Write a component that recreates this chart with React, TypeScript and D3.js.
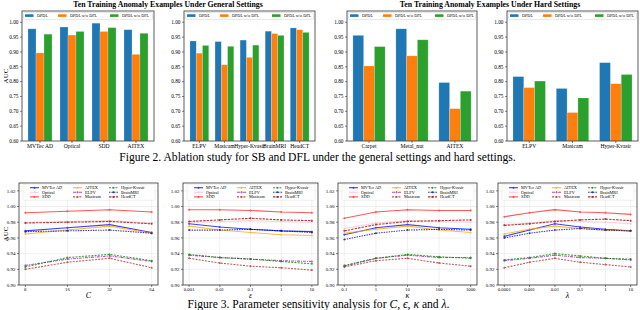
import * as d3 from "d3";

const FONT = "'Liberation Serif', 'Times New Roman', serif";
const BAR_COLORS = ["#1f77b4", "#ff7f0e", "#2ca02c"];
const BAR_SERIES = ["DPDL", "DPDL w/o DFL", "DPDL w/o DFL"];
const BAR_TICKS = [0.6, 0.65, 0.7, 0.75, 0.8, 0.85, 0.9, 0.95, 1.0];

// ablation, general settings
const generalCatsA = ["MVTec AD", "Optical", "SDD", "AITEX"];
const generalDpdlA = [0.978, 0.984, 0.997, 0.975];
const generalOrangeA = [0.897, 0.957, 0.969, 0.892];
const generalGreenA = [0.96, 0.969, 0.982, 0.963];

const generalCatsB = ["ELPV", "Masicam", "Hyper-Kvasir", "BrainMRI", "HeadCT"];
const generalDpdlB = [0.937, 0.935, 0.94, 0.97, 0.981];
const generalOrangeB = [0.896, 0.857, 0.882, 0.962, 0.975];
const generalGreenB = [0.922, 0.919, 0.923, 0.956, 0.966];

// ablation, hard settings
const hardCatsA = ["Carpet", "Metal_nut", "AITEX"];
const hardDpdlA = [0.956, 0.978, 0.797];
const hardOrangeA = [0.853, 0.887, 0.709];
const hardGreenA = [0.918, 0.941, 0.768];

const hardCatsB = ["ELPV", "Masicam", "Hyper-Kvasir"];
const hardDpdlB = [0.817, 0.777, 0.864];
const hardOrangeB = [0.78, 0.696, 0.793];
const hardGreenB = [0.802, 0.745, 0.824];

// sensitivity
const DATASETS = ["MVTec AD", "Optical", "SDD", "AITEX", "ELPV", "Masicam", "Hyper-Kvasir", "BrainMRI", "HeadCT"];
const LINE_STYLE: Record<string, { color: string; dash?: string }> = {
  "MVTec AD": { color: "#0000ff" },
  Optical: { color: "#ffc0cb" },
  SDD: { color: "#ff2020" },
  AITEX: { color: "#ffa500" },
  ELPV: { color: "#9b209b", dash: "3,1,1,1" },
  Masicam: { color: "#a52a2a", dash: "2,1.2" },
  "Hyper-Kvasir": { color: "#008000", dash: "2,1.2" },
  BrainMRI: { color: "#000080", dash: "1.5,1" },
  HeadCT: { color: "#8b0000", dash: "2.5,1" },
};
const LINE_TICKS = [0.9, 0.92, 0.94, 0.96, 0.98, 1.0, 1.02];

const ticksC = ["8", "16", "32", "64"];
const sensC: Record<string, number[]> = {
  "MVTec AD": [0.969, 0.973, 0.977, 0.967],
  Optical: [0.98, 0.981, 0.982, 0.979],
  SDD: [0.992, 0.994, 0.996, 0.993],
  AITEX: [0.965, 0.97, 0.975, 0.966],
  ELPV: [0.925, 0.933, 0.937, 0.93],
  Masicam: [0.92, 0.929, 0.934, 0.922],
  "Hyper-Kvasir": [0.923, 0.935, 0.939, 0.931],
  BrainMRI: [0.968, 0.969, 0.97, 0.966],
  HeadCT: [0.979, 0.98, 0.981, 0.978],
};

const ticksEps = ["0.001", "0.01", "0.1", "1", "10"];
const sensEps: Record<string, number[]> = {
  "MVTec AD": [0.978, 0.974, 0.971, 0.969, 0.968],
  Optical: [0.98, 0.981, 0.982, 0.981, 0.98],
  SDD: [0.996, 0.996, 0.995, 0.993, 0.992],
  AITEX: [0.975, 0.97, 0.967, 0.964, 0.963],
  ELPV: [0.938, 0.935, 0.933, 0.931, 0.93],
  Masicam: [0.934, 0.928, 0.924, 0.922, 0.919],
  "Hyper-Kvasir": [0.939, 0.935, 0.933, 0.93, 0.927],
  BrainMRI: [0.97, 0.97, 0.971, 0.969, 0.967],
  HeadCT: [0.981, 0.983, 0.985, 0.983, 0.982],
};

const ticksKappa = ["0.1", "1", "10", "100", "1000"];
const sensKappa: Record<string, number[]> = {
  "MVTec AD": [0.964, 0.973, 0.977, 0.973, 0.971],
  Optical: [0.972, 0.979, 0.982, 0.981, 0.98],
  SDD: [0.985, 0.993, 0.996, 0.995, 0.995],
  AITEX: [0.966, 0.971, 0.975, 0.97, 0.967],
  ELPV: [0.924, 0.934, 0.938, 0.935, 0.935],
  Masicam: [0.923, 0.931, 0.934, 0.928, 0.924],
  "Hyper-Kvasir": [0.925, 0.934, 0.939, 0.936, 0.934],
  BrainMRI: [0.958, 0.966, 0.97, 0.971, 0.97],
  HeadCT: [0.969, 0.977, 0.981, 0.982, 0.983],
};

const ticksLambda = ["0.0001", "0.001", "0.01", "0.1", "1", "10"];
const sensLambda: Record<string, number[]> = {
  "MVTec AD": [0.962, 0.97, 0.978, 0.974, 0.971, 0.969],
  Optical: [0.977, 0.979, 0.982, 0.981, 0.98, 0.978],
  SDD: [0.987, 0.992, 0.996, 0.993, 0.992, 0.99],
  AITEX: [0.965, 0.971, 0.975, 0.972, 0.97, 0.969],
  ELPV: [0.931, 0.934, 0.938, 0.935, 0.934, 0.932],
  Masicam: [0.922, 0.929, 0.934, 0.929, 0.926, 0.923],
  "Hyper-Kvasir": [0.932, 0.935, 0.94, 0.937, 0.934, 0.933],
  BrainMRI: [0.96, 0.966, 0.97, 0.972, 0.97, 0.969],
  HeadCT: [0.976, 0.978, 0.981, 0.983, 0.984, 0.982],
};

const BAR_TOP = 11;
const BAR_BOTTOM = 141;
const LINE_TOP = 183;
const LINE_BOTTOM = 285;

function BarPanel({ left, right, cats, values, yLabel }: {
  left: number; right: number; cats: string[]; values: number[][]; yLabel?: boolean;
}) {
  const n = cats.length;
  const w = 0.25;
  const margin = 0.05 * (n - 1 + 3 * w);
  const x = d3.scaleLinear().domain([-1.5 * w - margin, n - 1 + 1.5 * w + margin]).range([left, right]);
  const y = d3.scaleLinear().domain([0.6, 1.038]).range([BAR_BOTTOM, BAR_TOP]);
  const bw = x(w) - x(0);
  const legendX = [3, 36, 88];
  return (
    <g>
      {values.map((vals, s) =>
        vals.map((v, i) => (
          <rect key={`${s}-${i}`} x={x(i + (s - 1) * w) - bw / 2} y={y(v)} width={bw} height={y(0.6) - y(v)}
            fill={BAR_COLORS[s]} stroke="#ffffff" strokeOpacity={0.35} strokeWidth={0.6} />
        ))
      )}
      <rect x={left} y={BAR_TOP} width={right - left} height={BAR_BOTTOM - BAR_TOP} fill="none" stroke="#333" strokeWidth={0.8} />
      {BAR_TICKS.map((t) => (
        <g key={t}>
          <line x1={left - 2} x2={left} y1={y(t)} y2={y(t)} stroke="#333" strokeWidth={0.6} />
          <text x={left - 3.5} y={y(t)} dy="0.35em" textAnchor="end" fontSize={5.3} fontFamily={FONT}>{t.toFixed(2)}</text>
        </g>
      ))}
      {cats.map((c, i) => (
        <g key={c}>
          <line x1={x(i)} x2={x(i)} y1={BAR_BOTTOM} y2={BAR_BOTTOM + 2} stroke="#333" strokeWidth={0.6} />
          <text x={x(i)} y={BAR_BOTTOM + 7.2} textAnchor="middle" fontSize={5.6} fontFamily={FONT}>{c}</text>
        </g>
      ))}
      <rect x={left + 1.5} y={12.5} width={right - left - 3} height={7} rx={1} fill="#fff" fillOpacity={0.85} stroke="#d0d0d0" strokeWidth={0.5} />
      {BAR_SERIES.map((s, k) => (
        <g key={k}>
          <rect x={left + legendX[k]} y={14.3} width={8.5} height={2.6} fill={BAR_COLORS[k]} />
          <text x={left + legendX[k] + 12} y={15.6} dy="0.35em" fontSize={4.2} fontFamily={FONT}>{s}</text>
        </g>
      ))}
      {yLabel && (
        <text transform={`translate(${8},${(BAR_TOP + BAR_BOTTOM) / 2}) rotate(-90)`} textAnchor="middle" fontSize={7} fontFamily={FONT}>AUC</text>
      )}
    </g>
  );
}

function LinePanel({ left, right, ticks, data, label, yLabel }: {
  left: number; right: number; ticks: string[]; data: Record<string, number[]>; label: string; yLabel?: boolean;
}) {
  const n = ticks.length;
  const m = 0.05 * (n - 1);
  const x = d3.scaleLinear().domain([-m, n - 1 + m]).range([left, right]);
  const y = d3.scaleLinear().domain([0.9, 1.03]).range([LINE_BOTTOM, LINE_TOP]);
  const line = d3.line<number>().x((_, i) => x(i)).y((v) => y(v));
  const legCols = [11, 54, 90];
  return (
    <g>
      {LINE_TICKS.map((t) => (
        <line key={t} x1={left} x2={right} y1={y(t)} y2={y(t)} stroke="#e6e6e6" strokeWidth={0.6} />
      ))}
      {ticks.map((t, i) => (
        <line key={t} x1={x(i)} x2={x(i)} y1={LINE_TOP} y2={LINE_BOTTOM} stroke="#e6e6e6" strokeWidth={0.6} />
      ))}
      {DATASETS.map((d) => {
        const st = LINE_STYLE[d];
        return (
          <g key={d} opacity={0.75}>
            <path d={line(data[d]) ?? ""} fill="none" stroke={st.color} strokeWidth={1.1} strokeDasharray={st.dash} />
            {data[d].map((v, i) => (
              <circle key={i} cx={x(i)} cy={y(v)} r={1} fill={st.color} />
            ))}
          </g>
        );
      })}
      <rect x={left} y={LINE_TOP} width={right - left} height={LINE_BOTTOM - LINE_TOP} fill="none" stroke="#333" strokeWidth={0.8} />
      {LINE_TICKS.map((t) => (
        <g key={t}>
          <line x1={left - 2} x2={left} y1={y(t)} y2={y(t)} stroke="#333" strokeWidth={0.6} />
          <text x={left - 3.5} y={y(t)} dy="0.35em" textAnchor="end" fontSize={5} fontFamily={FONT}>{t.toFixed(2)}</text>
        </g>
      ))}
      {ticks.map((t, i) => (
        <g key={t}>
          <line x1={x(i)} x2={x(i)} y1={LINE_BOTTOM} y2={LINE_BOTTOM + 2} stroke="#333" strokeWidth={0.6} />
          <text x={x(i)} y={LINE_BOTTOM + 6} textAnchor="middle" fontSize={4.8} fontFamily={FONT}>{t}</text>
        </g>
      ))}
      <text x={(left + right) / 2} y={LINE_BOTTOM + 12.5} textAnchor="middle" fontSize={8} fontStyle="italic" fontFamily={FONT}>{label}</text>
      <rect x={left + 4} y={184.3} width={right - left - 7} height={16} rx={1} fill="#fff" fillOpacity={0.8} stroke="#e0e0e0" strokeWidth={0.5} />
      {DATASETS.map((d, k) => {
        const col = Math.floor(k / 3);
        const row = k % 3;
        const lx = left + legCols[col];
        const ly = 187.7 + row * 4.6;
        const st = LINE_STYLE[d];
        return (
          <g key={d}>
            <g opacity={0.8}>
              <line x1={lx} x2={lx + 9} y1={ly} y2={ly} stroke={st.color} strokeWidth={1.1} strokeDasharray={st.dash} />
              <circle cx={lx + 4.5} cy={ly} r={1} fill={st.color} />
            </g>
            <text x={lx + 12} y={ly} dy="0.35em" fontSize={4.3} fontFamily={FONT}>{d}</text>
          </g>
        );
      })}
      {yLabel && (
        <text transform={`translate(${8},${(LINE_TOP + LINE_BOTTOM) / 2}) rotate(-90)`} textAnchor="middle" fontSize={7} fontFamily={FONT}>AUC</text>
      )}
    </g>
  );
}

export default function App() {
  return (
    <svg width={640} height={310} viewBox="0 0 640 310" style={{ position: "absolute", left: 0, top: 0, background: "#fff" }}>
      <text x={168} y={7} textAnchor="middle" fontSize={7.8} fontWeight="bold" fontFamily={FONT}>Ten Training Anomaly Examples Under General Settings</text>
      <text x={490} y={7} textAnchor="middle" fontSize={7.8} fontWeight="bold" fontFamily={FONT}>Ten Training Anomaly Examples Under Hard Settings</text>
      <BarPanel left={22} right={154} cats={generalCatsA} values={[generalDpdlA, generalOrangeA, generalGreenA]} yLabel />
      <BarPanel left={184} right={315} cats={generalCatsB} values={[generalDpdlB, generalOrangeB, generalGreenB]} />
      <BarPanel left={347} right={477} cats={hardCatsA} values={[hardDpdlA, hardOrangeA, hardGreenA]} />
      <BarPanel left={507} right={638} cats={hardCatsB} values={[hardDpdlB, hardOrangeB, hardGreenB]} />
      <text x={317.5} y={161} textAnchor="middle" fontSize={11.6} fontFamily={FONT}>Figure 2.  Ablation study for SB and DFL under the general settings and hard settings.</text>

      <LinePanel left={19} right={158} ticks={ticksC} data={sensC} label="C" yLabel />
      <LinePanel left={183} right={318} ticks={ticksEps} data={sensEps} label="ε" />
      <LinePanel left={338} right={477} ticks={ticksKappa} data={sensKappa} label="κ" />
      <LinePanel left={498} right={637} ticks={ticksLambda} data={sensLambda} label="λ" />
      <text x={318.5} y={308} textAnchor="middle" fontSize={11.6} fontFamily={FONT}>
        Figure 3. Parameter sensitivity analysis for <tspan fontStyle="italic">C</tspan>, <tspan fontStyle="italic">ϵ</tspan>, <tspan fontStyle="italic">κ</tspan> and <tspan fontStyle="italic">λ</tspan>.
      </text>
    </svg>
  );
}
